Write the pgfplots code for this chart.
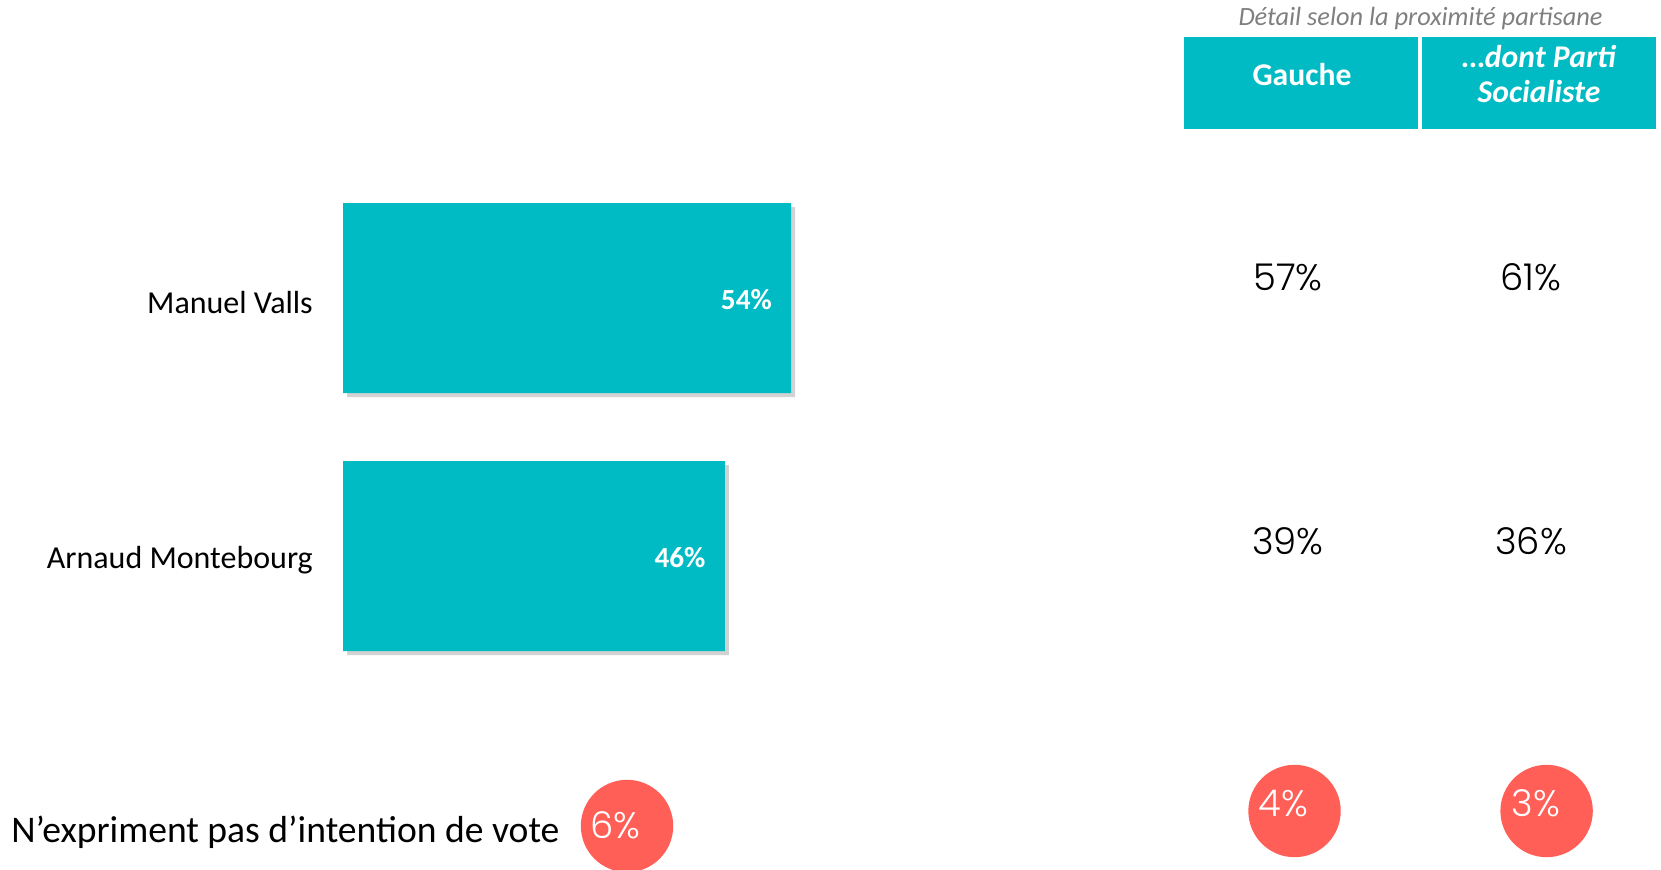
\documentclass[border=0pt]{standalone}
\usepackage{pgfplots}
\pgfplotsset{compat=1.18}
\usepackage{fontspec}
\setmainfont{Carlito}
\newfontfamily\valfont{Poppins}[UprightFont={* Light}]
\usetikzlibrary{shadows}

\definecolor{tealbar}{HTML}{00BBC4}
\definecolor{redcirc}{HTML}{FF5F57}
\definecolor{subgray}{HTML}{7F7F7F}

\begin{document}
\begin{tikzpicture}
\begin{axis}[
    scale only axis, width=16.61cm, height=8.7cm,
    xmin=-41.325, xmax=158.795, ymin=0, ymax=870, y dir=reverse,
    axis line style={draw=none}, tick style={draw=none},
    xtick=\empty, ytick={298,556},
    yticklabels={Manuel Valls, Arnaud Montebourg},
    yticklabel style={anchor=east, inner sep=0pt, xshift=31.35mm, yshift=-0.4mm,
        font=\fontsize{9.1}{11}\selectfont},
    clip=false,
    /pgf/number format/assume math mode=true,
]
% vote intention, whole sample
\addplot[xbar, bar width=190, fill=tealbar, draw=none,
    drop shadow={shadow xshift=0.4mm, shadow yshift=-0.4mm, fill=black!35, opacity=0.5},
    point meta=x,
    nodes near coords={\pgfmathprintnumber{\pgfplotspointmeta}\%},
    nodes near coords align={anchor=east},
    every node near coord/.append style={text=white, xshift=-0.7mm, yshift=-0.2mm,
        font=\bfseries\fontsize{8.3}{10}\selectfont}]
    coordinates {(54,298) (46,556)};

% detail by party proximity
\addplot[only marks, mark=none, point meta=explicit,
    nodes near coords={\valfont\pgfmathprintnumber{\pgfplotspointmeta}\%},
    nodes near coords align=center,
    every node near coord/.append style={text=black, font=\fontsize{10.5}{12}\selectfont}]
    coordinates {(113.86,277.5) [57] (143.13,277.5) [61]
                 (113.86,541) [39] (143.13,541) [36]};

% no intention: whole sample
\addplot[only marks, color=redcirc, mark=*, mark size=4.55mm,
    mark options={fill=redcirc, draw=redcirc}, point meta=explicit,
    nodes near coords={\valfont\pgfmathprintnumber{\pgfplotspointmeta}\%},
    nodes near coords align=center,
    every node near coord/.append style={text=white, xshift=-1.2mm, yshift=0.1mm,
        font=\fontsize{10.5}{12}\selectfont}]
    coordinates {(34.22,826) [6]};

% no intention: by party proximity
\addplot[only marks, color=redcirc, mark=*, mark size=4.55mm,
    mark options={fill=redcirc, draw=redcirc}, point meta=explicit,
    nodes near coords={\valfont\pgfmathprintnumber{\pgfplotspointmeta}\%},
    nodes near coords align=center,
    every node near coord/.append style={text=white, xshift=-1.1mm, yshift=0.75mm,
        font=\fontsize{10.5}{12}\selectfont}]
    coordinates {(114.64,811) [4] (145.01,811) [3]};

\fill[tealbar] (axis cs:101.33,37) rectangle (axis cs:129.52,129);
\fill[tealbar] (axis cs:130.0,37) rectangle (axis cs:158.19,129);
\node[text=white, font=\bfseries\fontsize{9}{10.8}\selectfont] at (axis cs:115.54,74) {Gauche};
\node[text=white, font=\bfseries\itshape\fontsize{9}{10.2}\selectfont, align=center]
    at (axis cs:144.1,74) {…dont Parti\\Socialiste};
\node[text=subgray, font=\itshape\fontsize{7.5}{9}\selectfont] at (axis cs:129.82,18)
    {Détail selon la proximité partisane};
\node[anchor=west, inner sep=0pt, font=\fontsize{10.7}{12}\selectfont] at (axis cs:-40.05,832)
    {N’expriment pas d’intention de vote};
\end{axis}
\pgfresetboundingbox
\useasboundingbox (0,0) rectangle (16.61,8.7);
\end{tikzpicture}
\end{document}
